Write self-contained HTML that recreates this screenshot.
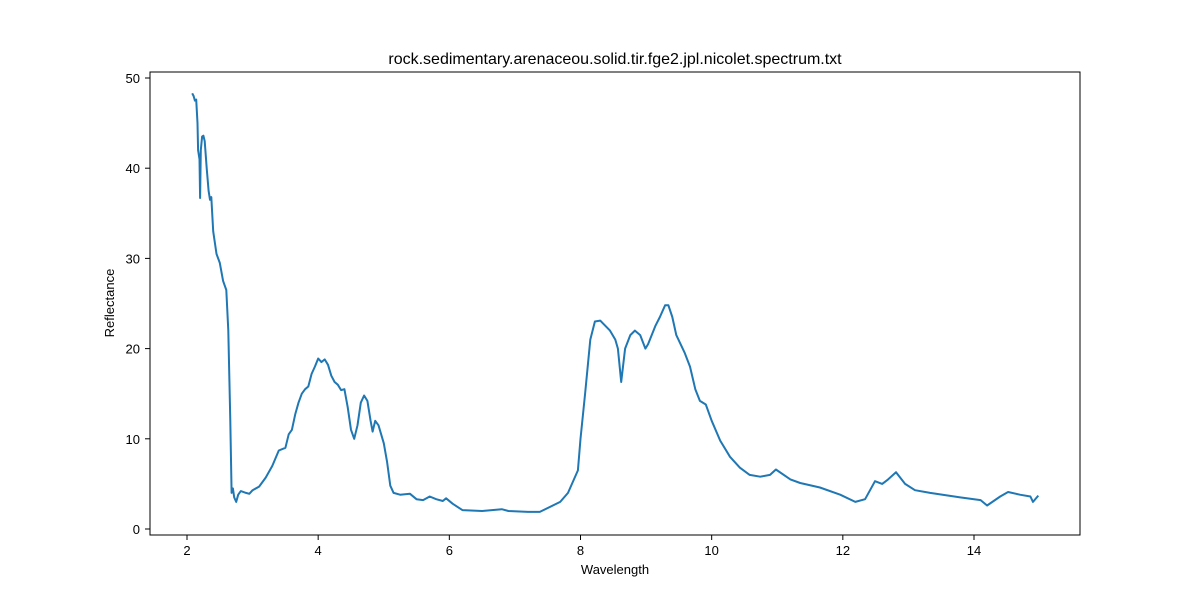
<!DOCTYPE html>
<html><head><meta charset="utf-8"><style>
body{margin:0;background:#fff;}
svg{display:block;font-family:"Liberation Sans","DejaVu Sans",sans-serif;}
</style></head><body>
<svg id="chart" width="1200" height="600">
<rect x="0" y="0" width="1200" height="600" fill="#fff"/>
<text x="615" y="64" text-anchor="middle" font-size="16">rock.sedimentary.arenaceou.solid.tir.fge2.jpl.nicolet.spectrum.txt</text>
<text x="615" y="574" text-anchor="middle" font-size="13">Wavelength</text>
<text x="114" y="303" text-anchor="middle" font-size="13" transform="rotate(-90 114 303)">Reflectance</text>
<g id="ticks"></g>
<path id="line" fill="none" stroke="#1f77b4" stroke-width="2" stroke-linejoin="round"/>
<rect x="150" y="72" width="930" height="463" fill="none" stroke="#000" stroke-width="1"/>
</svg>
<script>
const wavelengths=[2.08,2.1,2.12,2.14,2.16,2.17,2.19,2.2,2.21,2.23,2.25,2.27,2.3,2.33,2.35,2.37,2.4,2.45,2.5,2.55,2.6,2.63,2.66,2.68,2.7,2.72,2.75,2.78,2.82,2.9,2.95,3.0,3.1,3.2,3.3,3.4,3.5,3.55,3.6,3.65,3.7,3.75,3.8,3.85,3.9,3.95,4.0,4.05,4.1,4.15,4.2,4.25,4.3,4.35,4.4,4.45,4.5,4.55,4.6,4.65,4.7,4.75,4.8,4.83,4.87,4.92,5.0,5.05,5.1,5.15,5.25,5.4,5.5,5.6,5.7,5.8,5.9,5.95,6.05,6.2,6.5,6.8,6.9,7.2,7.38,7.69,7.81,7.96,8.0,8.07,8.15,8.22,8.3,8.45,8.53,8.57,8.62,8.68,8.76,8.83,8.91,8.99,9.03,9.14,9.21,9.29,9.34,9.4,9.46,9.59,9.67,9.75,9.82,9.91,10.0,10.13,10.28,10.43,10.58,10.74,10.89,10.98,11.2,11.35,11.65,11.96,12.19,12.34,12.49,12.6,12.69,12.81,12.95,13.1,13.33,13.79,14.1,14.2,14.4,14.52,14.7,14.86,14.9,14.98];
const reflectance=[48.3,48.0,47.5,47.6,45,42,41,36.7,42,43.5,43.6,43,40,37.5,36.5,36.8,33,30.5,29.5,27.5,26.5,22,12,4,4.5,3.5,3.0,3.8,4.2,4.0,3.9,4.3,4.7,5.7,7.0,8.7,9.0,10.5,11.0,12.7,14.0,15.0,15.5,15.8,17.2,18.0,18.9,18.5,18.8,18.2,17.0,16.3,16.0,15.4,15.5,13.5,11.0,10.0,11.5,14.0,14.8,14.2,12.0,10.8,12.0,11.5,9.5,7.5,4.8,4.0,3.8,3.9,3.3,3.2,3.6,3.3,3.1,3.4,2.8,2.1,2.0,2.2,2.0,1.9,1.9,3.0,4.0,6.5,10,15,21,23.0,23.1,22,21,20,16.3,20,21.5,22,21.5,20,20.5,22.5,23.5,24.8,24.8,23.5,21.5,19.5,18,15.5,14.2,13.8,12,9.8,8,6.8,6.0,5.8,6.0,6.6,5.5,5.1,4.6,3.8,3.0,3.3,5.3,5.0,5.5,6.3,5.0,4.3,4.0,3.5,3.2,2.6,3.6,4.1,3.8,3.6,3.0,3.7];
const xTicks=[2,4,6,8,10,12,14];
const yTicks=[0,10,20,30,40,50];
const xs=v=>187+(v-2)*787/12;
const ys=v=>529-v*451/50;
const g=document.getElementById('ticks');
const NS='http://www.w3.org/2000/svg';
xTicks.forEach(t=>{
  const l=document.createElementNS(NS,'line');
  l.setAttribute('x1',xs(t));l.setAttribute('x2',xs(t));l.setAttribute('y1',535);l.setAttribute('y2',540);l.setAttribute('stroke','#000');
  
  
  g.appendChild(l);
  const tx=document.createElementNS(NS,'text');
  tx.setAttribute('x',xs(t));tx.setAttribute('y',555);tx.setAttribute('text-anchor','middle');tx.setAttribute('font-size','13');
  tx.textContent=t;
  
  
  g.appendChild(tx);
});
yTicks.forEach(t=>{
  const l=document.createElementNS(NS,'line');
  l.setAttribute('x1',145);l.setAttribute('x2',150);l.setAttribute('y1',ys(t));l.setAttribute('y2',ys(t));l.setAttribute('stroke','#000');
  
  
  g.appendChild(l);
  const tx=document.createElementNS(NS,'text');
  tx.setAttribute('x',140);tx.setAttribute('y',ys(t)+5);tx.setAttribute('text-anchor','end');tx.setAttribute('font-size','13');
  tx.textContent=t;
  
  
  g.appendChild(tx);
});
document.getElementById('line').setAttribute('d',wavelengths.map((w,i)=>(i?'L':'M')+xs(w).toFixed(1)+','+ys(reflectance[i]).toFixed(1)).join(''));
</script>
</body></html>
